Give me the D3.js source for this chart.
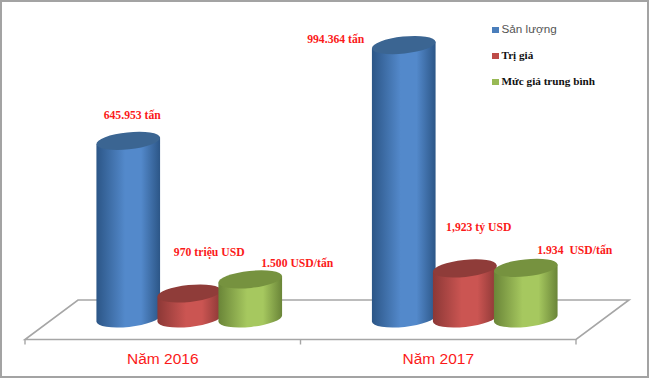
<!DOCTYPE html>
<html>
<head>
<meta charset="utf-8">
<script src="https://cdn.jsdelivr.net/npm/d3@7"></script>
<style>
	html, body { margin: 0; padding: 0; background: #fff; }
	svg { display: block; }
</style>
</head>
<body>
<svg id="chart" width="650" height="379"></svg>
<script>
// Data. The plotted heights of the price / value series
// share one axis with the tonnage, so they are stored as plotted.
const years = ["Năm 2016", "Năm 2017"];
const seriesNames = ["Sản lượng", "Trị giá", "Mức giá trung bình"];
const sanLuong = [645953, 994364];
const triGia = [91000, 182000];
const mucGia = [142000, 184000];
const sanLuongLabels = ["645.953 tấn", "994.364 tấn"];
const triGiaLabels = ["970 triệu USD", "1,923 tỷ USD"];
const mucGiaLabels = ["1.500 USD/tấn", "1.934  USD/tấn"];

const width = 650, height = 379;
const svg = d3.select("#chart");
const defs = svg.append("defs");

const palette = [
	{ edge: "#2c5687", mid: "#5389cb", top: "#3b6592", key: "#4a7ebb" },
	{ edge: "#8c3836", mid: "#cb5552", top: "#8f3c39", key: "#be4b48" },
	{ edge: "#6a8538", mid: "#a6c85f", top: "#76923f", key: "#98b954" }
];

palette.forEach((p, i) => {
	const g = defs.append("linearGradient").attr("id", "body" + i)
		.attr("x1", 0).attr("x2", 1).attr("y1", 0).attr("y2", 0);
	g.append("stop").attr("offset", "0%").attr("stop-color", p.edge);
	g.append("stop").attr("offset", "45%").attr("stop-color", p.mid);
	g.append("stop").attr("offset", "70%").attr("stop-color", p.mid);
	g.append("stop").attr("offset", "100%").attr("stop-color", p.edge);
});

// frame
svg.append("rect")
	.attr("x", 1).attr("y", 1).attr("width", width - 3).attr("height", height - 3)
	.attr("fill", "#fff").attr("stroke", "#a3a3a3").attr("stroke-width", 2);

// Scales
const floorLeft = 25, floorRight = 576, floorFront = 339.5, floorBack = 300, depth = 53;
const baseY = 318.5;
const x = d3.scaleBand().domain(years).range([floorLeft, floorRight]);
const xBars = d3.scaleBand().domain(years).range([floorLeft + 26.5, floorRight + 26.5]);
const xSeries = d3.scaleBand().domain(seriesNames).range([46.25, 229.25]);
const y = d3.scaleLinear().domain([0, 1000000]).range([baseY, baseY - 275]);

// Floor
svg.append("path")
	.attr("d", `M${floorLeft},${floorFront}L${floorRight},${floorFront}L${floorRight + depth},${floorBack}L${floorLeft + depth},${floorBack}Z`)
	.attr("fill", "#fff").attr("stroke", "#a6a6a6").attr("stroke-width", 1.6);

const axis = svg.append("g")
	.attr("transform", `translate(0,${floorFront})`)
	.call(d3.axisBottom(x).tickSize(0).tickPadding(13.5));
axis.select(".domain").remove();
axis.selectAll("text")
	.attr("fill", "#fb1a1a")
	.style("font-family", "'Liberation Sans', sans-serif")
	.style("font-size", "15.5px");
axis.selectAll(".edge")
	.data([floorLeft, x(years[1]), floorRight])
	.enter().append("line").attr("class", "edge")
	.attr("x1", d => d).attr("x2", d => d).attr("y1", 0).attr("y2", 5)
	.attr("stroke", "#a6a6a6").attr("stroke-width", 1.4);

// Bars
const rx = 32, ry = 8.5, tilt = -6;
const cos = Math.cos(tilt * Math.PI / 180), sin = Math.sin(tilt * Math.PI / 180);

const bars = [];
[sanLuong, triGia, mucGia].forEach((values, s) => {
	values.forEach((v, i) => {
		bars.push({ year: years[i], name: seriesNames[s], s: s, value: v });
	});
});
// left to right inside each year, as overlapped in the picture
bars.sort((a, b) => d3.ascending(a.year, b.year) || a.s - b.s);

const centerX = d => xBars(d.year) + xSeries(d.name) + xSeries.bandwidth() / 2;

const cyl = svg.selectAll(".cyl").data(bars).enter().append("g").attr("class", "cyl");

cyl.append("path")
	.attr("fill", d => `url(#body${d.s})`)
	.attr("d", d => {
		const cx = centerX(d);
		const top = y(d.value);
		const dx = rx * cos, dy = rx * sin;
		return `M${cx - dx},${top - dy}` +
			`L${cx - dx},${baseY - dy}` +
			`A${rx},${ry} ${tilt} 0 0 ${cx + dx},${baseY + dy}` +
			`L${cx + dx},${top + dy}Z`;
	});

cyl.append("ellipse")
	.attr("fill", d => palette[d.s].top)
	.attr("rx", rx).attr("ry", ry)
	.attr("transform", d => `translate(${centerX(d)},${y(d.value)}) rotate(${tilt})`);

// Value labels, nudged off each bar top the way they sit in the picture
const labelOffset = {
	"0-0": [4, -24.5], "0-1": [-68, -5],
	"1-0": [20, -40], "1-1": [14, -40],
	"2-0": [47, -15], "2-1": [49, -17]
};
[sanLuongLabels, triGiaLabels, mucGiaLabels].forEach((labels, s) => {
	const values = [sanLuong, triGia, mucGia][s];
	labels.forEach((t, i) => {
		const off = labelOffset[s + "-" + i];
		svg.append("text")
			.attr("x", centerX({ year: years[i], name: seriesNames[s] }) + off[0])
			.attr("y", y(values[i]) + off[1])
			.attr("text-anchor", "middle").attr("dominant-baseline", "middle")
			.attr("fill", "#fb1a1a")
			.style("white-space", "pre")
			.style("font-family", "'Liberation Serif', serif")
			.style("font-weight", "bold").style("font-size", "11.7px")
			.text(t);
	});
});

// Legend
const legendY = d3.scalePoint().domain(seriesNames).range([30, 82]);
const legend = svg.selectAll(".key").data(seriesNames).enter().append("g")
	.attr("class", "key")
	.attr("transform", d => `translate(492,${legendY(d)})`);
legend.append("rect")
	.attr("y", -3).attr("width", 7).attr("height", 6)
	.attr("fill", (d, i) => palette[i].key);
legend.append("text")
	.attr("x", 9.5).attr("dominant-baseline", "middle")
	.attr("fill", (d, i) => i === 0 ? "#555" : "#111")
	.style("font-family", (d, i) => i === 0 ? "'Liberation Sans', sans-serif" : "'Liberation Serif', serif")
	.style("font-weight", (d, i) => i === 0 ? "normal" : "bold")
	.style("font-size", (d, i) => i === 0 ? "11.7px" : "11.2px")
	.text(d => d);
</script>
</body>
</html>
